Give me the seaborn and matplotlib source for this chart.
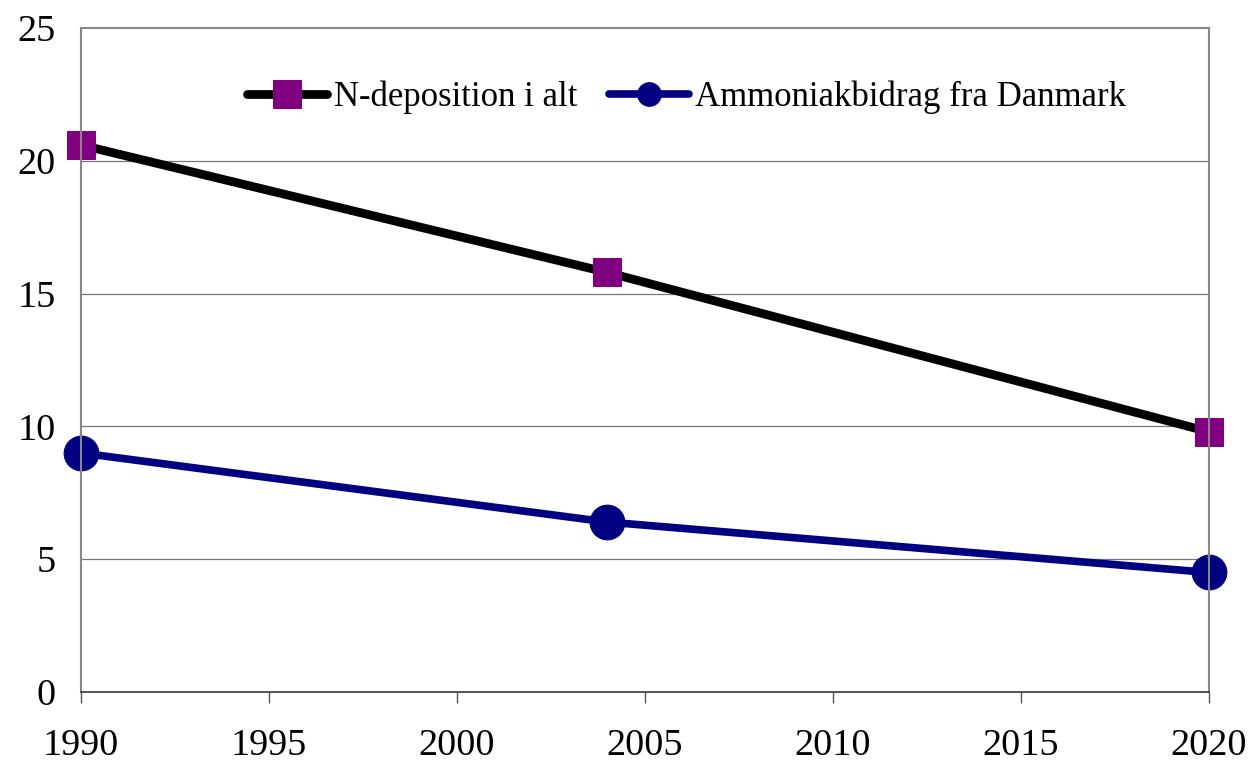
import pandas as pd
import matplotlib.pyplot as plt
import seaborn as sns

years = [1990, 2004, 2020]
n_total = [20.6, 15.8, 9.8]
ammonia_dk = [9.0, 6.4, 4.5]
x_ticks = [1990, 1995, 2000, 2005, 2010, 2015, 2020]
y_ticks = [0, 5, 10, 15, 20, 25]

sns.set_theme(style="white")
plt.rcParams["font.family"] = ["Liberation Serif", "DejaVu Serif"]
plt.rcParams["text.color"] = "black"
plt.rcParams["xtick.color"] = "black"
plt.rcParams["ytick.color"] = "black"

df = pd.DataFrame({"year": years, "total": n_total, "dk": ammonia_dk})

fig = plt.figure(figsize=(12.5, 7.61), dpi=100)
ax = fig.add_axes([0.0648, 0.0907, 0.9022, 0.8723])

sns.lineplot(data=df, x="year", y="total", ax=ax, color="black", linewidth=6.3,
             marker="s", markersize=20, markerfacecolor="#800080",
             markeredgecolor="#800080", label="N-deposition i alt")
sns.lineplot(data=df, x="year", y="dk", ax=ax, color="#000080", linewidth=5.5,
             marker="o", markersize=25, markerfacecolor="#000080",
             markeredgecolor="#000080", label="Ammoniakbidrag fra Danmark")

ax.set_xlim(1990, 2020)
ax.set_ylim(0, 25)
ax.set_xticks(x_ticks)
ax.set_yticks(y_ticks)
ax.tick_params(axis="x", labelsize=27.5, length=8, width=1, color="#555555",
               direction="out", bottom=True, pad=18)
ax.tick_params(axis="y", labelsize=27.5, length=0, pad=18)
ax.set_xlabel("")
ax.set_ylabel("")

for y in y_ticks[1:-1]:
    ax.axhline(y, color="#777777", linewidth=0.9, zorder=0)
for side in ["left", "top", "right"]:
    ax.spines[side].set_color("#888888")
    ax.spines[side].set_linewidth(1.5)
ax.spines["bottom"].set_color("#333333")
ax.spines["bottom"].set_linewidth(1.2)
for line in ax.lines:
    line.set_clip_on(False)

leg = ax.legend(loc="center left", bbox_to_anchor=(0.135, 0.896), ncol=2, frameon=False,
                fontsize=25, handlelength=2.3, columnspacing=0.9, handletextpad=0.2,
                borderaxespad=0)
leg.legend_handles[1].set_markersize(17)

fig.savefig("out.png", dpi=100)
